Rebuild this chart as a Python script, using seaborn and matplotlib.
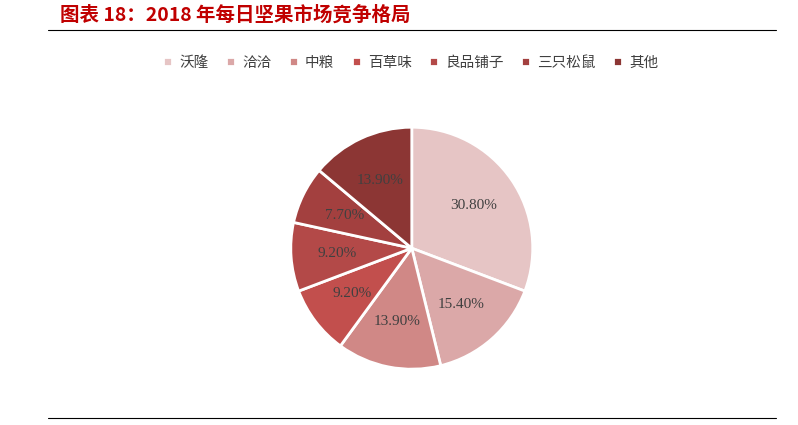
import matplotlib
matplotlib.use("Agg")
import matplotlib.pyplot as plt
import seaborn as sns

sns.set_theme(style="white")
plt.rcParams['font.family'] = ['Liberation Serif', 'Noto Sans CJK SC', 'DejaVu Sans']

labels = ["沃隆", "洽洽", "中粮", "百草味", "良品铺子", "三只松鼠", "其他"]
values = [30.8, 15.4, 13.9, 9.2, 9.2, 7.7, 13.9]
colors = ["#E6C5C5", "#DBA8A8", "#D08886", "#C24F4D", "#B34948", "#A3403F", "#8C3634"]

fig = plt.figure(figsize=(7.98, 4.25), dpi=100)
fig.patch.set_facecolor("white")

ax = fig.add_axes([0.516 - 0.1516, 0.416 - 0.2847, 0.3032, 0.5694])
wedges, texts = ax.pie(
    values, colors=colors, startangle=90, counterclock=False,
    labels=[f"{v:.2f}%" for v in values], labeldistance=0.62,
    wedgeprops=dict(edgecolor="white", linewidth=2),
    textprops=dict(fontsize=11, color="#404040", ha="center", va="center"))
for t in texts:
    t.set_ha("center")
    t.set_va("center")
ax.set_xlim(-1.0, 1.0)
ax.set_ylim(-1.0, 1.0)
ax.set_aspect("equal")

fig.legend(wedges, labels, loc="center", bbox_to_anchor=(0.515, 0.852), ncol=7,
           frameon=False, handlelength=0.6, handleheight=0.6, columnspacing=1.2,
           handletextpad=0.5, prop={'family': ['Noto Sans CJK SC'], 'size': 10.5},
           labelcolor="#404040")

fig.text(0.075, 0.965, "图表 18：2018 年每日坚果市场竞争格局", color="#C00000",
         fontsize=14, fontweight="bold", style="italic", va="center",
         family=['Noto Sans CJK SC', 'DejaVu Sans'])
fig.add_artist(plt.Line2D([0.06, 0.972], [0.93, 0.93], color="black", lw=0.8))
fig.add_artist(plt.Line2D([0.06, 0.972], [0.017, 0.017], color="black", lw=0.8))

fig.savefig("out.png", dpi=100)
